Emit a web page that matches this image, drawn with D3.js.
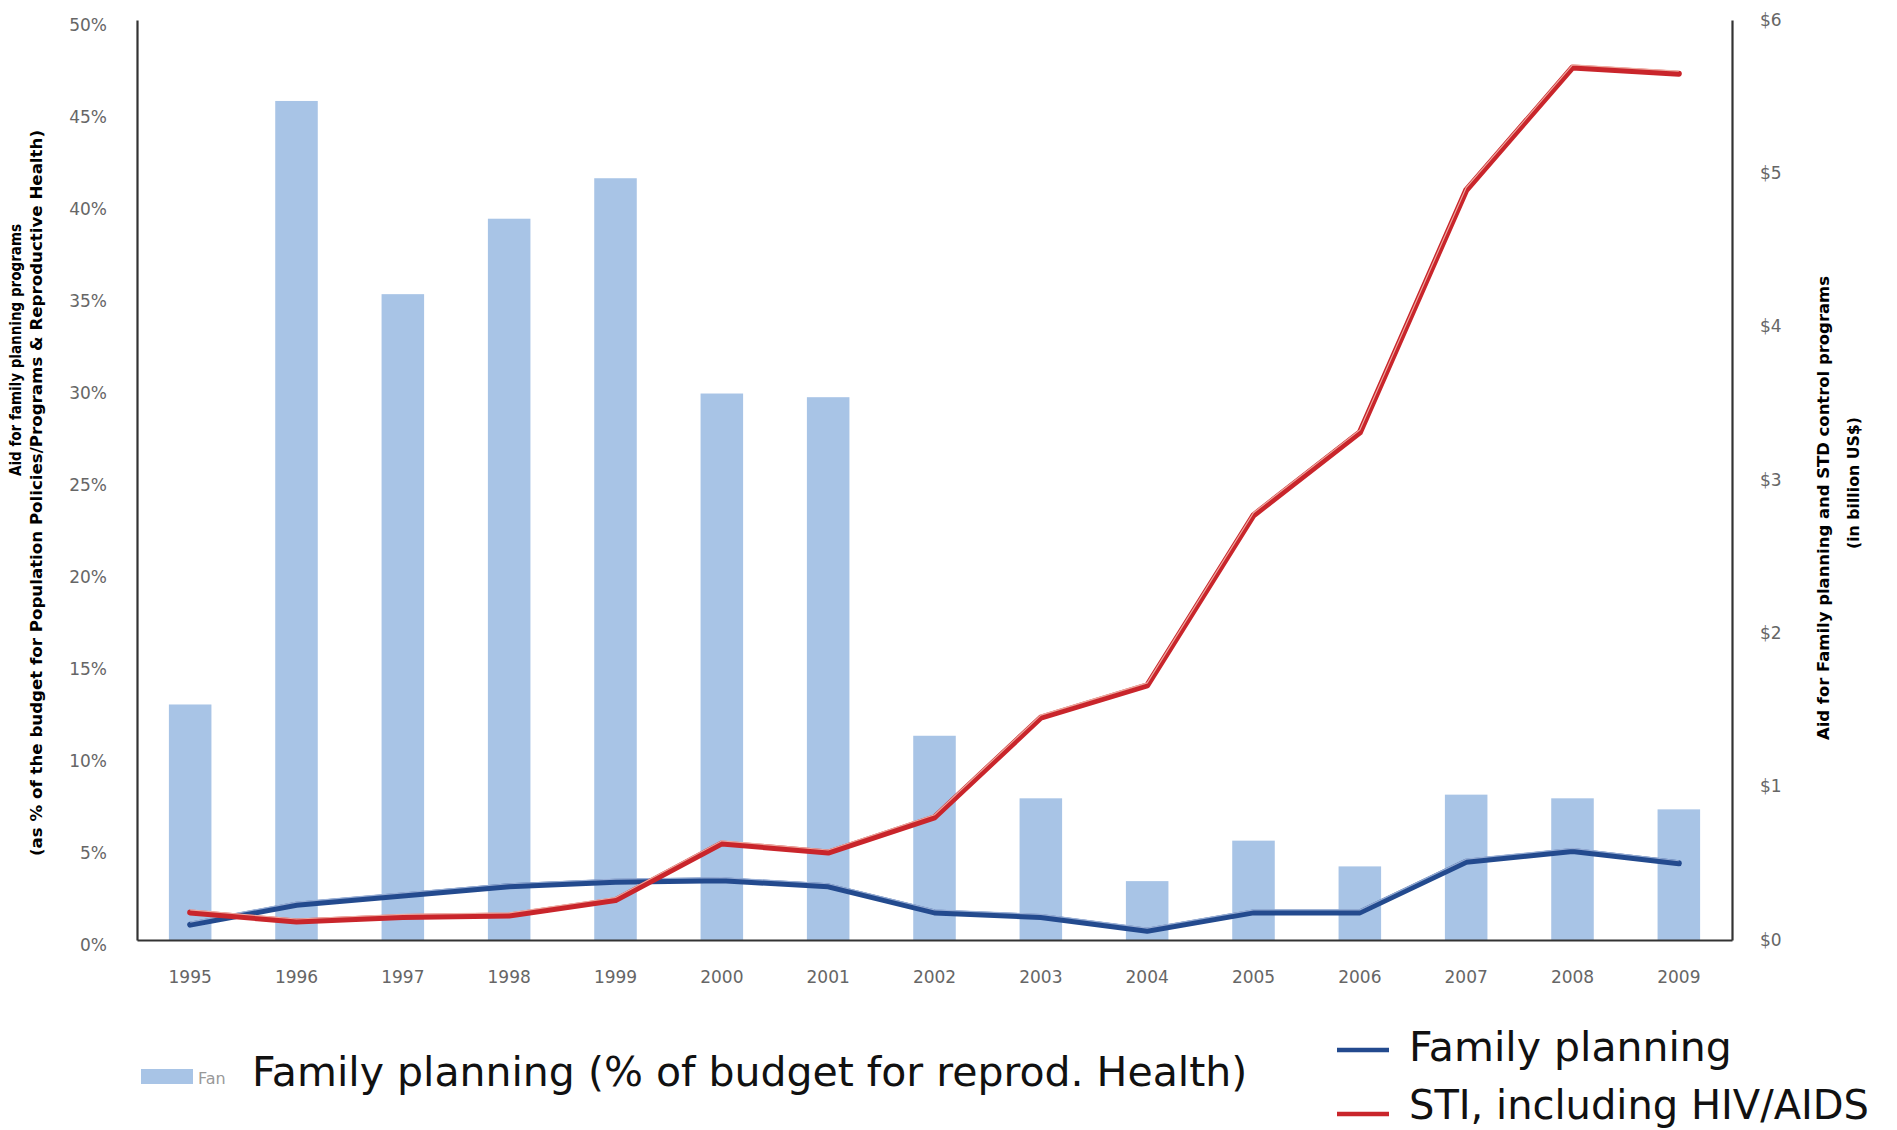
<!DOCTYPE html>
<html><head><meta charset="utf-8">
<script src="https://cdn.jsdelivr.net/npm/d3@7/dist/d3.min.js"></script>
<style>
html,body{margin:0;padding:0;background:#fff;}
svg{display:block;}
</style></head>
<body>
<svg id="chart" width="1897" height="1130"></svg>
<script>
const years = ["1995","1996","1997","1998","1999","2000","2001","2002","2003","2004","2005","2006","2007","2008","2009"];
const fpShare = [12.8,45.6,35.1,39.2,41.4,29.7,29.5,11.1,7.7,3.2,5.4,4.0,7.9,7.7,7.1];
const fpAid = [0.10,0.23,0.29,0.35,0.38,0.39,0.35,0.18,0.15,0.06,0.18,0.18,0.51,0.58,0.50];
const stiAid = [0.18,0.12,0.15,0.16,0.26,0.63,0.57,0.80,1.45,1.66,2.77,3.31,4.89,5.69,5.65];
const leftTicks = [0,5,10,15,20,25,30,35,40,45,50];
const rightTicks = [0,1,2,3,4,5,6];

const svg = d3.select("#chart");
const L = 137, R = 1732, T = 20, B = 940;

const x = d3.scaleBand().domain(years).range([L, R]).padding(0);
const yL = d3.scaleLinear().domain([0, 50]).range([B, T]);
const yR = d3.scaleLinear().domain([0, 6]).range([B, T]);

const barW = x.bandwidth() * 0.4;

// bars
svg.append("g").selectAll("rect").data(years).join("rect")
  .attr("x", (d) => x(d) + x.bandwidth()/2 - barW/2)
  .attr("y", (d, i) => yL(fpShare[i]))
  .attr("width", barW)
  .attr("height", (d, i) => B - yL(fpShare[i]))
  .attr("fill", "#a8c4e6");

// axes
const tickFont = "'DejaVu Sans',sans-serif";
const axL = d3.axisLeft(yL).tickValues(leftTicks).tickFormat(d => d + "%").tickSize(0).tickPadding(30);
const gL = svg.append("g").attr("transform", `translate(${L},0)`).call(axL);
const axR = d3.axisRight(yR).tickValues(rightTicks).tickFormat(d => "$" + d).tickSize(0).tickPadding(28);
const gR = svg.append("g").attr("transform", `translate(${R},0)`).call(axR);
const axB = d3.axisBottom(x).tickSize(0).tickPadding(31);
const gB = svg.append("g").attr("transform", `translate(0,${B})`).call(axB);

[gL, gR, gB].forEach(g => {
  g.select(".domain").attr("stroke", "#333").attr("stroke-width", 2.2);
  g.selectAll("text").attr("fill", "#666").style("font-family", tickFont).style("font-size", "17px");
});
gL.selectAll(".tick text").attr("dy", "0.6em");
gR.selectAll(".tick text").attr("dy", "0.3em");

// lines
const line = (arr) => d3.line().x((d, i) => x(years[i]) + x.bandwidth()/2).y(d => yR(d))(arr);
function drawLine(arr, color, light) {
  svg.append("path").attr("d", line(arr)).attr("fill", "none").attr("stroke", color)
    .attr("stroke-width", 6).attr("stroke-linejoin", "round").attr("stroke-linecap", "round");
  svg.append("path").attr("d", line(arr)).attr("fill", "none").attr("stroke", light)
    .attr("stroke-width", 1.2).attr("opacity", 0.85).attr("transform", "translate(0,-2.6)");
}
drawLine(fpAid, "#234a8e", "#a9bde0");
drawLine(stiAid, "#c9252b", "#f5c0b3");

// axis titles
const titleFont = "'DejaVu Sans Condensed','Liberation Sans Narrow',sans-serif";
const lt1 = svg.append("g").attr("transform", "translate(21,350) rotate(-90)");
lt1.append("text").attr("x", 0).attr("y", 0).attr("text-anchor", "middle")
  .style("font-family", titleFont).style("font-weight", "bold").style("font-size", "15px")
  .text("Aid for family planning programs");
const lt2 = svg.append("g").attr("transform", "translate(42,493) rotate(-90)");
lt2.append("text").attr("x", 0).attr("y", 0).attr("text-anchor", "middle")
  .style("font-family", titleFont).style("font-weight", "bold").style("font-size", "15px")
  .attr("textLength", 726).attr("lengthAdjust", "spacingAndGlyphs")
  .text("(as % of the budget for Population Policies/Programs & Reproductive Health)");

const rt = svg.append("g").attr("transform", "translate(1829,508) rotate(-90)");
rt.append("text").attr("x", 0).attr("y", 0).attr("text-anchor", "middle")
  .style("font-family", titleFont).style("font-weight", "bold").style("font-size", "15px")
  .attr("textLength", 464).attr("lengthAdjust", "spacingAndGlyphs")
  .text("Aid for Family planning and STD control programs");
rt.append("text").attr("x", 25).attr("y", 30).attr("text-anchor", "middle")
  .style("font-family", titleFont).style("font-weight", "bold").style("font-size", "15px")
  .attr("textLength", 132).attr("lengthAdjust", "spacingAndGlyphs")
  .text("(in billion US$)");

// legend
const legFont = "'DejaVu Sans','Verdana',sans-serif";
svg.append("rect").attr("x", 141).attr("y", 1069).attr("width", 52).attr("height", 15).attr("fill", "#a8c4e6");
svg.append("text").attr("x", 198).attr("y", 1084).style("font-family", legFont).style("font-size", "16px").attr("fill", "#999").text("Fan");
svg.append("text").attr("x", 252).attr("y", 1086).style("font-family", legFont).style("font-size", "41px").attr("fill", "#111")
  .text("Family planning (% of budget for reprod. Health)");

svg.append("line").attr("x1", 1337).attr("x2", 1389).attr("y1", 1050).attr("y2", 1050).attr("stroke", "#234a8e").attr("stroke-width", 4.5);
svg.append("text").attr("x", 1409).attr("y", 1061).style("font-family", legFont).style("font-size", "41px").attr("fill", "#111").text("Family planning");
svg.append("line").attr("x1", 1337).attr("x2", 1389).attr("y1", 1114).attr("y2", 1114).attr("stroke", "#c9252b").attr("stroke-width", 4.5);
svg.append("text").attr("x", 1409).attr("y", 1119).style("font-family", legFont).style("font-size", "40px").attr("fill", "#111").text("STI, including HIV/AIDS");
</script>
</body></html>
